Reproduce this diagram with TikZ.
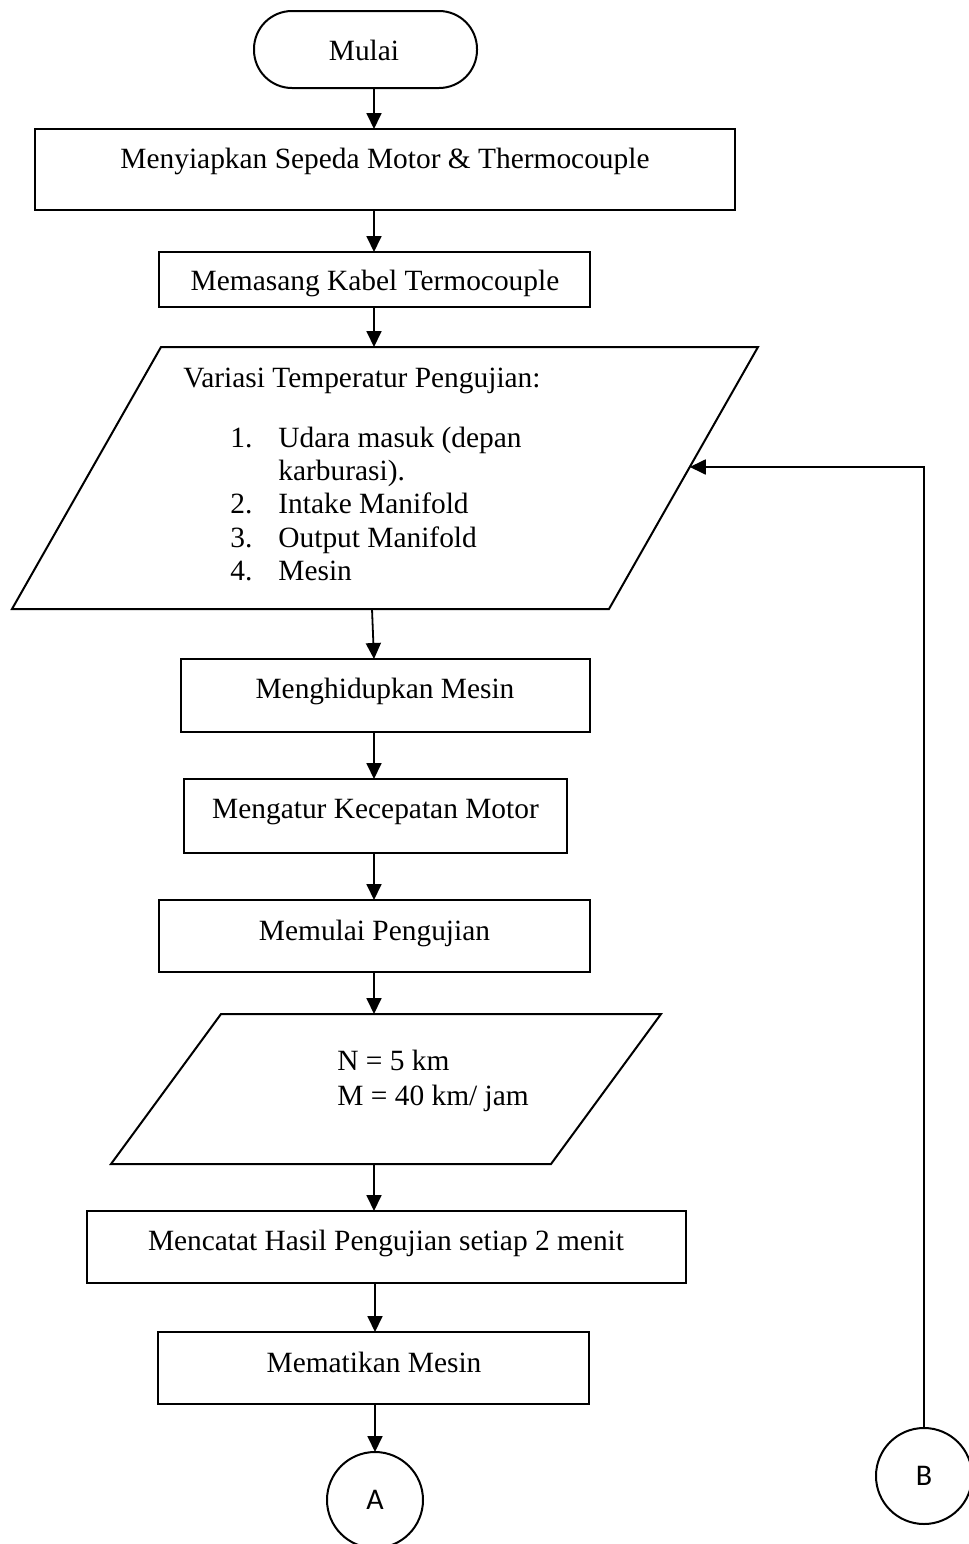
\documentclass[tikz,border=0pt]{standalone}
\usepackage{fontspec}
\setmainfont{Liberation Serif}
\newfontfamily\connfont{Carlito}
\usetikzlibrary{arrows.meta,calc}
\begin{document}
\begin{tikzpicture}[x=0.5pt,y=-0.5pt,
  box/.style={draw,line width=1pt,outer sep=0pt,inner sep=0pt},
  io/.style={line width=1pt,line join=miter},
  conn/.style={draw,line width=1pt,circle,minimum size=48pt,outer sep=0pt,inner sep=0pt,
    font=\connfont\fontsize{15}{17}\selectfont},
  txt/.style={inner sep=0pt,anchor=base,font=\fontsize{14.7}{16.5}\selectfont},
  ltxt/.style={txt,anchor=base west},
  arr/.style={line width=0.9pt,-{Triangle[length=8pt,width=7.5pt]}}]
\useasboundingbox (0,0) rectangle (969,1544);

% main column axis for the connectors
\coordinate (axis) at (374,0);

% start terminal
\node[box,rounded corners=19pt,minimum width=111.5pt,minimum height=38.5pt] (start) at (365.5,49.5) {};
\node[txt] (tstart) at (364,60) {Mulai};

% process boxes
\node[box,minimum width=350pt,minimum height=40.5pt] (b1) at (385,169.5) {};
\node[txt] (t1) at (385,168) {Menyiapkan Sepeda Motor \& Thermocouple};

\node[box,minimum width=215.5pt,minimum height=27.5pt] (b2) at (374.5,279.5) {};
\node[txt] (t2) at (375,290) {Memasang Kabel Termocouple};

% input: temperature variations
\coordinate (p1tl) at (161,347);
\coordinate (p1tr) at (758,347);
\coordinate (p1br) at (609,609);
\coordinate (p1bl) at (12,609);
\draw[io] (p1tl) -- (p1tr) -- (p1br) -- (p1bl) -- cycle;
\coordinate (p1n) at (374,347);
\coordinate (p1s) at (372,609);
\node[ltxt] (v0) at (183,387) {Variasi Temperatur Pengujian:};
\node[ltxt] (n1) at (230,447) {1.};
\node[ltxt] (v1) at (278,447) {Udara masuk (depan};
\node[ltxt] (v1b) at (278,480) {karburasi).};
\node[ltxt] (n2) at (230,513) {2.};
\node[ltxt] (v2) at (278,513) {Intake Manifold};
\node[ltxt] (n3) at (230,547) {3.};
\node[ltxt] (v3) at (278,547) {Output Manifold};
\node[ltxt] (n4) at (230,580) {4.};
\node[ltxt] (v4) at (278,580) {Mesin};

\node[box,minimum width=204.5pt,minimum height=36.5pt] (b3) at (385.5,695.5) {};
\node[txt] (t3) at (385,698) {Menghidupkan Mesin};

\node[box,minimum width=191.5pt,minimum height=37pt] (b4) at (375.5,816) {};
\node[txt] (t4) at (375.5,818) {Mengatur Kecepatan Motor};

\node[box,minimum width=215.5pt,minimum height=36pt] (b5) at (374.5,936) {};
\node[txt] (t5) at (374.5,940) {Memulai Pengujian};

% input: distance and speed
\coordinate (p2tl) at (221,1014);
\coordinate (p2tr) at (661,1014);
\coordinate (p2br) at (551,1164);
\coordinate (p2bl) at (111,1164);
\draw[io] (p2tl) -- (p2tr) -- (p2br) -- (p2bl) -- cycle;
\coordinate (p2n) at (374,1014);
\coordinate (p2s) at (374,1164);
\node[ltxt] (nv) at (337,1070) {N = 5 km};
\node[ltxt] (mv) at (337,1105) {M = 40 km/ jam};

\node[box,minimum width=299.5pt,minimum height=36pt] (b6) at (386.5,1247) {};
\node[txt] (t6) at (386,1250) {Mencatat Hasil Pengujian setiap 2 menit};

\node[box,minimum width=215.5pt,minimum height=36pt] (b7) at (373.5,1368) {};
\node[txt] (t7) at (374,1372) {Mematikan Mesin};

% off-page connectors
\node[conn] (A) at (375,1500) {A};
\node[conn] (B) at (924,1476) {B};

% flow
\draw[arr] (start.south -| axis) -- (b1.north -| axis);
\draw[arr] (b1.south -| axis) -- (b2.north -| axis);
\draw[arr] (b2.south -| axis) -- (p1n);
\draw[arr] (p1s) -- (b3.north -| axis);
\draw[arr] (b3.south -| axis) -- (b4.north -| axis);
\draw[arr] (b4.south -| axis) -- (b5.north -| axis);
\draw[arr] (b5.south -| axis) -- (p2n);
\draw[arr] (p2s) -- (b6.north -| axis);
\draw[arr] (b6.south -| A.north) -- (b7.north -| A.north);
\draw[arr] (b7.south -| A.north) -- (A.north);

% return path from B back into the temperature input
\coordinate (entry) at ($(p1tr)!0.458!(p1br)$);
\draw[arr] (B.north) |- (entry);
\end{tikzpicture}
\end{document}
